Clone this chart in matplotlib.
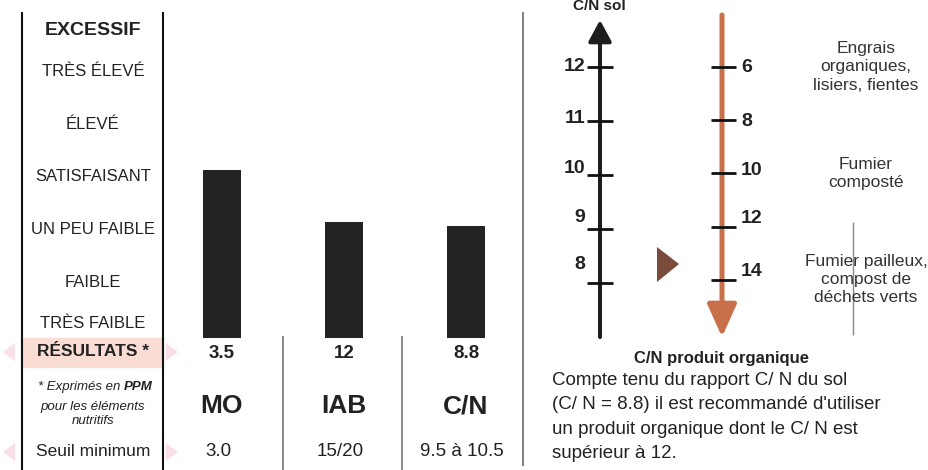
import matplotlib
matplotlib.use("Agg")
import matplotlib.pyplot as plt
from matplotlib import transforms
from matplotlib.patches import Rectangle, Polygon, FancyArrowPatch

plt.rcParams['font.family'] = ['Liberation Sans', 'DejaVu Sans']

# ==========================
# Données
# ==========================
niveaux = ["TRÈS FAIBLE", "FAIBLE", "UN PEU FAIBLE", "SATISFAISANT",
           "ÉLEVÉ", "TRÈS ÉLEVÉ", "EXCESSIF"]
niveaux_pos = [0.28, 1.04, 2.04, 3.04, 4.02, 5.03, 5.81]

parametres = ["MO", "IAB", "C/N"]
niveau_barre = [3.17, 2.19, 2.11]
resultats = ["3.5", "12", "8.8"]
seuils = ["3.0", "15/20", "9.5 à 10.5"]

cn_sol_ticks = [12, 11, 10, 9, 8]
cn_sol_decal = [0, 1.5, 5, 8.5, 13.5]      # décalage des étiquettes vers le haut (points)
cn_prod_ticks = [6, 8, 10, 12, 14]
cn_prod_decal = [0, -1, 2, 6, 6]

produits = ["Engrais\norganiques,\nlisiers, fientes",
            "Fumier\ncomposté",
            "Fumier pailleux,\ncompost de\ndéchets verts"]
produits_cn = [6, 10, 14]

conclusion = ("Compte tenu du rapport C/ N du sol\n"
              "(C/ N = 8.8) il est recommandé d'utiliser\n"
              "un produit organique dont le C/ N est\n"
              "supérieur à 12.")

# ==========================
# Figure et axes
# ==========================
W, H = 929, 470
fig = plt.figure(figsize=(W / 100, H / 100), dpi=100)

# calque en pixels
ax = fig.add_axes([0, 0, 1, 1])
ax.set_xlim(0, W)
ax.set_ylim(H, 0)
ax.axis("off")

# axe des barres : x = paramètre, y = niveau (53 px par niveau, base a 338 px)
axb = fig.add_axes([0, 0, 1, 1], facecolor="none")
axb.set_xlim(-222 / 122, (W - 222) / 122)
axb.set_ylim(-(H - 338) / 53, 338 / 53)
axb.axis("off")

# échelle C/N sol (54 px par unité, 12 a 67 px)
axs = fig.add_axes([0, 0, 1, 1], facecolor="none")
axs.set_xlim(0, W)
axs.set_ylim(12 - (H - 67) / 54, 12 + 67 / 54)
axs.axis("off")

# échelle C/N produit (26.6 px par unité, 6 a 67 px, vers le bas)
axp = fig.add_axes([0, 0, 1, 1], facecolor="none")
axp.set_xlim(0, W)
axp.set_ylim(6 + (H - 67) / 26.6, 6 - 67 / 26.6)
axp.axis("off")

# ==========================
# Tableau de gauche
# ==========================
ax.add_patch(Rectangle((23, 338), 140, 29, color="#f9ddd5", zorder=0))
for yy in [352, 452]:
    ax.add_patch(Polygon([(15, yy - 9), (3, yy), (15, yy + 9)], color="#f6d3dc", alpha=0.7, lw=0))
    ax.add_patch(Polygon([(166, yy - 9), (178, yy), (166, yy + 9)], color="#f6d3dc", alpha=0.7, lw=0))

ax.vlines([22, 163], 12, 470, color="#111111", lw=1.5)
ax.vlines([283, 402], 336, 470, color="#777777", lw=1.2)
ax.vlines(523, 12, 466, color="#777777", lw=1.3)

tr_lbl = transforms.blended_transform_factory(ax.transData, axb.transData)
for nom, pos in zip(niveaux, niveaux_pos):
    gras = nom == "EXCESSIF"
    axb.text(93, pos, nom, transform=tr_lbl, ha="center", va="center",
             fontsize=14 if gras else 12, fontweight="bold" if gras else "normal",
             color="#222222")

ax.text(93, 352, "RÉSULTATS *", ha="center", va="center", fontsize=12.5,
        fontweight="bold", color="#222222")
ax.text(124, 387, "* Exprimés en ", ha="right", va="center", fontsize=9.5,
        style="italic", color="#222222")
ax.text(124, 387, "PPM", ha="left", va="center", fontsize=9.5,
        style="italic", fontweight="bold", color="#222222")
ax.text(93, 414, "pour les éléments\nnutritifs", ha="center", va="center",
        fontsize=9.5, style="italic", color="#222222", linespacing=1.3)
ax.text(93, 452, "Seuil minimum", ha="center", va="center", fontsize=12.5,
        color="#222222")

# barres
axb.bar(range(len(parametres)), niveau_barre, width=0.31, color="#232323")

tr_col = transforms.blended_transform_factory(axb.transData, ax.transData)
for i, (p, r, s) in enumerate(zip(parametres, resultats, seuils)):
    axb.text(i, 354, r, transform=tr_col, ha="center", va="center",
             fontsize=13.5, fontweight="bold", color="#222222")
    axb.text(i, 406, p, transform=tr_col, ha="center", va="center",
             fontsize=19, fontweight="bold", color="#222222")
    axb.text(i - 0.03, 452, s, transform=tr_col, ha="center", va="center",
             fontsize=13.5, color="#222222")

# ==========================
# Échelle C/N du sol
# ==========================
axs.add_patch(FancyArrowPatch((600, 12 - (337 - 67) / 54), (600, 12 + (67 - 20) / 54),
                              arrowstyle="-|>,head_length=13,head_width=7",
                              mutation_scale=1, lw=2.9, color="#1e1e1e",
                              shrinkA=0, shrinkB=0))
axs.hlines(cn_sol_ticks, 587, 613, color="#111111", lw=2)
for t, d in zip(cn_sol_ticks, cn_sol_decal):
    axs.annotate(str(t), (585, t), xytext=(0, d), textcoords="offset points",
                 ha="right", va="center", fontsize=14, fontweight="bold",
                 color="#222222")
ax.text(599, 6, "C/N sol", ha="center", va="center", fontsize=11,
        fontweight="bold", color="#222222")

# triangle
ax.add_patch(Polygon([(657, 247), (679, 264), (657, 282)], color="#7a4a3a", lw=0))

# ==========================
# Échelle C/N produit organique
# ==========================
axp.add_patch(FancyArrowPatch((722, 6 - (67 - 15) / 26.6), (722, 6 + (337 - 67) / 26.6),
                              arrowstyle="-|>,head_length=20,head_width=9",
                              mutation_scale=1, lw=3.6, color="#c8704a",
                              shrinkA=0, shrinkB=0))
axp.hlines(cn_prod_ticks, 711, 736, color="#111111", lw=2)
for t, d in zip(cn_prod_ticks, cn_prod_decal):
    axp.annotate(str(t), (741, t), xytext=(0, d), textcoords="offset points",
                 ha="left", va="center", fontsize=14, fontweight="bold",
                 color="#222222")

for txt, v in zip(produits, produits_cn):
    axp.text(866, v, txt, ha="center", va="center", fontsize=12.5,
             linespacing=1.25, color="#333333")
ax.vlines(853, 222, 335, color="#888888", lw=1)

ax.text(722, 358, "C/N produit organique", ha="center", va="center",
        fontsize=12, fontweight="bold", color="#222222")
ax.text(552, 372, conclusion, ha="left", va="top", fontsize=13.5,
        linespacing=1.57, color="#222222")

fig.savefig("out.png", dpi=100)
